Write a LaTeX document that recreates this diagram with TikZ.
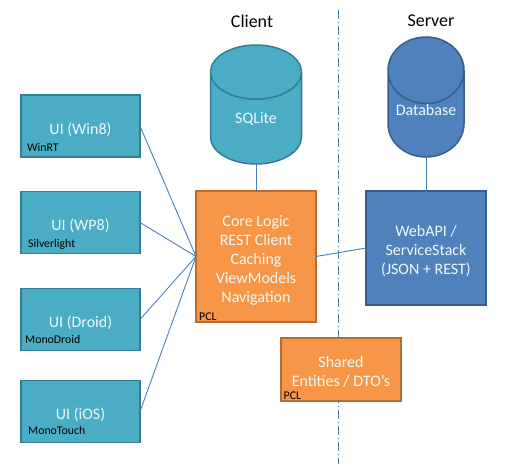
\documentclass[tikz,border=0pt]{standalone}
\usepackage{fontspec}
\setmainfont{Carlito}
\usetikzlibrary{shapes.geometric, positioning}
\definecolor{cTeal}{RGB}{75,172,198}
\definecolor{cTealDk}{RGB}{53,125,145}
\definecolor{cBlue}{RGB}{79,129,189}
\definecolor{cBlueDk}{RGB}{56,93,138}
\definecolor{cOrange}{RGB}{247,150,70}
\definecolor{cOrangeDk}{RGB}{182,109,49}
\definecolor{cLine}{RGB}{74,126,187}
\newcommand{\dropped}[2]{\raisebox{-#1}[\height][\depth]{\begin{tabular}{@{}c@{}}#2\end{tabular}}}
\tikzset{
	box/.style      ={rectangle, line width=1.5pt, outer sep=0pt, inner sep=0pt, text=white!92!cTeal, font=\fontsize{16}{19}\selectfont},
	uibox/.style    ={box, draw=cTealDk, fill=cTeal, minimum width=119pt, minimum height=62pt},
	logicbox/.style ={box, draw=cOrangeDk, fill=cOrange, minimum width=120pt},
	apibox/.style   ={box, draw=cBlueDk, fill=cBlue, minimum width=120pt, minimum height=114pt},
	store/.style    ={cylinder, shape border rotate=90, cylinder uses custom fill, aspect=1.1, line width=1.5pt, outer sep=0pt, inner sep=0pt, text=white!92!cTeal, font=\fontsize{16}{19}\selectfont},
	sublabel/.style ={inner sep=0pt, text=black, font=\fontsize{11.8}{13}\selectfont},
	heading/.style  ={inner sep=0pt, text=black, font=\fontsize{18}{21}\selectfont},
	link/.style     ={cLine, line width=0.9pt},
	divider/.style  ={cLine, line width=0.9pt, dash pattern=on 9pt off 3pt on 1pt off 3pt},
}
\begin{document}
\begin{tikzpicture}[x=1pt, y=-1pt]
	\useasboundingbox (0,0) rectangle (514,464);
	% split between the two sides
	\coordinate (divtop) at (338,10);
	\coordinate (divbot) at (338,464);
	\draw[divider] (divtop) -- (divbot);
	\node[heading] (client) at (252,21) {Client};
	\node[heading] (server) at (431,21) {Server};
	% ui column
	\node[uibox] (win8) at (80.5,126) {\dropped{4.5pt}{UI (Win8)}};
	\node[uibox, below=34.5pt of win8] (wp8) {\dropped{4.5pt}{UI (WP8)}};
	\node[uibox, below=35pt of wp8] (droid) {\dropped{4.5pt}{UI (Droid)}};
	\node[uibox, below=30pt of droid] (ios) {\dropped{4.5pt}{UI (iOS)}};
	\node[sublabel, anchor=south west] (winrt) at ([shift={(6,-5)}]win8.south west) {WinRT};
	\node[sublabel, anchor=south west] (silver) at ([shift={(7,-4)}]wp8.south west) {Silverlight};
	\node[sublabel, anchor=south west] (mdroid) at ([shift={(4,-7)}]droid.south west) {MonoDroid};
	\node[sublabel, anchor=south west] (mtouch) at ([shift={(7,-8)}]ios.south west) {MonoTouch};
	% client side
	\node[logicbox, minimum height=131pt] (core) at (256,256.5) {\dropped{4pt}{Core Logic\\REST Client\\Caching\\ViewModels\\Navigation}};
	\node[store, draw=cTealDk, cylinder body fill=cTeal, cylinder end fill=cTeal, aspect=1.3, minimum width=91pt, minimum height=119pt, above=27pt of core] (sqlite) {\dropped{1pt}{SQLite}};
	\node[sublabel, anchor=south west] (pclcore) at ([shift={(3,-1)}]core.south west) {PCL};
	% server side
	\node[apibox, right=50pt of core.north east, anchor=north west] (webapi) {\dropped{4pt}{WebAPI /\\ServiceStack\\(JSON + REST)}};
	\node[store, draw=cBlueDk, cylinder body fill=cBlue, cylinder end fill=cBlue, minimum width=76pt, minimum height=120pt, above=34pt of webapi] (database) {\dropped{-2.5pt}{Database}};
	% shared code
	\node[logicbox, minimum height=63pt] (shared) at (341,369.5) {\dropped{4pt}{Shared\\Entities / DTO’s}};
	\node[sublabel, anchor=south west] (pclshared) at ([shift={(2.5,-1)}]shared.south west) {PCL};
	% connectors
	\draw[link] (win8.east) -- (core.west);
	\draw[link] (wp8.east) -- (core.west);
	\draw[link] (droid.east) -- (core.west);
	\draw[link] (ios.east) -- (core.west);
	\draw[link] (sqlite.south) -- (core.north);
	\draw[link] (database.south) -- (webapi.north);
	\draw[link] (core.east) -- (webapi.west);
\end{tikzpicture}
\end{document}
